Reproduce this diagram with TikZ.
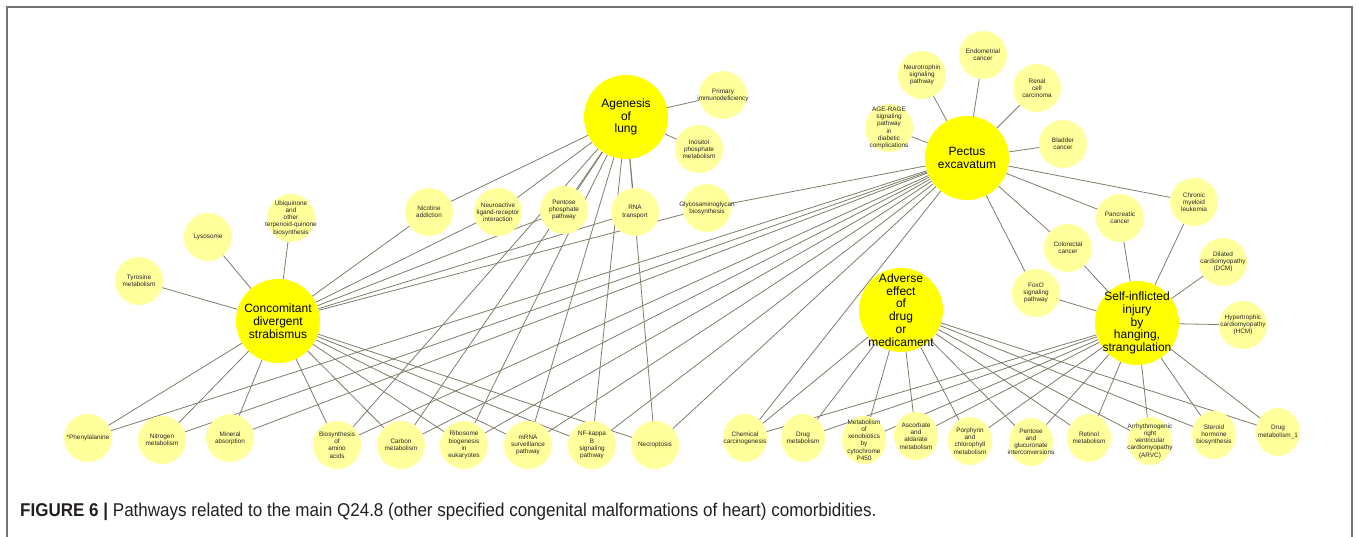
\documentclass[tikz,border=0pt]{standalone}
\usepackage{fontspec}
\setmainfont{Liberation Sans}
\newfontfamily\capfont[FakeStretch=0.92]{Liberation Sans}
\usetikzlibrary{backgrounds,shapes.geometric}
\definecolor{hubyellow}{RGB}{255,255,0}
\definecolor{pwyellow}{RGB}{255,255,155}
\definecolor{edgegray}{RGB}{125,125,105}
\definecolor{framegray}{RGB}{115,115,115}
\definecolor{captext}{RGB}{35,31,32}
\tikzset{
  hub/.style={circle, fill=hubyellow, minimum size=84pt, inner sep=0pt},
  hubtext/.style={align=center, inner sep=0pt, font=\fontsize{12}{12.8}\selectfont},
  pw/.style={circle, fill=pwyellow, minimum size=48pt, inner sep=0pt},
  pwo/.style={ellipse, fill=pwyellow, minimum width=44pt, minimum height=48pt, inner sep=0pt},
  pwtext/.style={align=center, inner sep=0pt, text=black!85, font=\fontsize{6.4}{7.2}\selectfont},
  link/.style={draw=edgegray, line width=0.8pt},
}

\begin{document}
\begin{tikzpicture}[x=1pt, y=-1pt]
			%%%%% START %%%%%
			\useasboundingbox (0,0) rectangle (1360,537);
			\draw[framegray, line width=1.4pt] (7,537) -- (7,7) -- (1352,7) -- (1352,537);
			
			% diseases
			\node[hub, label={[hubtext]center:Concomitant\\divergent\\strabismus}] (cds) at (278,321) {};
			\node[hub, label={[hubtext]center:Agenesis\\of\\lung}] (aol) at (626,117) {};
			\node[hub, label={[hubtext]center:Pectus\\excavatum}] (pex) at (967,158) {};
			\node[hub, label={[hubtext]center:Adverse\\effect\\of\\drug\\or\\medicament}] (ade) at (901,310) {};
			\node[hub, label={[hubtext]center:Self-inflicted\\injury\\by\\hanging,\\strangulation}] (sih) at (1137,323) {};
			
			% pathways round strabismus
			\node[pw, label={[pwtext]center:Tyrosine\\metabolism}] (tyr) at (139,281) {};
			\node[pw, label={[pwtext]center:Lysosome}] (lys) at (208,237) {};
			\node[pw, label={[pwtext]center:Ubiquinone\\and\\other\\terpenoid-quinone\\biosynthesis}] (ubi) at (291,218) {};
			
			% top row
			\node[pw, label={[pwtext]center:Nicotine\\addiction}] (nic) at (429,212) {};
			\node[pw, label={[pwtext]center:Neuroactive\\ligand-receptor\\interaction}] (nli) at (498,212) {};
			\node[pw, label={[pwtext]center:Pentose\\phosphate\\pathway}] (ppp) at (564,210) {};
			\node[pw, label={[pwtext]center:RNA\\transport}] (rna) at (635,212) {};
			\node[pw, label={[pwtext]center:Glycosaminoglycan\\biosynthesis}] (gly) at (707,208) {};
			\node[pw, label={[pwtext]center:Primary\\immunodeficiency}] (pid) at (723,95) {};
			\node[pw, label={[pwtext]center:Inositol\\phosphate\\metabolism}] (ino) at (699,149) {};
			
			% bottom row, left
			\node[pw, label={[pwtext]center:*Phenylalanine}] (phe) at (88,438) {};
			\node[pw, label={[pwtext]center:Nitrogen\\metabolism}] (nit) at (162,440) {};
			\node[pw, label={[pwtext]center:Mineral\\absorption}] (min) at (230,438) {};
			\node[pw, label={[pwtext]center:Biosynthesis\\of\\amino\\acids}] (bio) at (337,445) {};
			\node[pw, label={[pwtext]center:Carbon\\metabolism}] (car) at (401,445) {};
			\node[pw, label={[pwtext]center:Ribosome\\biogenesis\\in\\eukaryotes}] (rib) at (464,445) {};
			\node[pw, label={[pwtext]center:mRNA\\surveillance\\pathway}] (mrn) at (528,445) {};
			\node[pw, label={[pwtext]center:NF-kappa\\B\\signaling\\pathway}] (nfk) at (592,445) {};
			\node[pw, label={[pwtext]center:Necroptosis}] (nec) at (655,445) {};
			
			% bottom row, right
			\node[pwo, label={[pwtext]center:Chemical\\carcinogenesis}] (chc) at (745,438) {};
			\node[pwo, label={[pwtext]center:Drug\\metabolism}] (drm) at (803,438) {};
			\node[pwo, label={[pwtext]center:Metabolism\\of\\xenobiotics\\by\\cytochrome\\P450}] (xen) at (864,440) {};
			\node[pwo, label={[pwtext]center:Ascorbate\\and\\aldarate\\metabolism}] (asc) at (916,436) {};
			\node[pwo, label={[pwtext]center:Porphyrin\\and\\chlorophyll\\metabolism}] (por) at (970,441) {};
			\node[pwo, label={[pwtext]center:Pentose\\and\\glucuronate\\interconversions}] (pgi) at (1031,442) {};
			\node[pwo, label={[pwtext]center:Retinol\\metabolism}] (ret) at (1089,438) {};
			\node[pwo, label={[pwtext]center:Arrhythmogenic\\right\\ventricular\\cardiomyopathy\\(ARVC)}] (arv) at (1150,441) {};
			\node[pwo, label={[pwtext]center:Steroid\\hormone\\biosynthesis}] (ste) at (1214,435) {};
			\node[pwo, label={[pwtext]center:Drug\\metabolism\_1}] (dmo) at (1278,432) {};
			
			% pathways round pectus
			\node[pw, label={[pwtext]center:AGE-RAGE\\signaling\\pathway\\in\\diabetic\\complications}] (age) at (889,128) {};
			\node[pw, label={[pwtext]center:Neurotrophin\\signaling\\pathway}] (ntr) at (922,75) {};
			\node[pw, label={[pwtext]center:Endometrial\\cancer}] (enc) at (983,55) {};
			\node[pw, label={[pwtext]center:Renal\\cell\\carcinoma}] (rcc) at (1037,88) {};
			\node[pw, label={[pwtext]center:Bladder\\cancer}] (blc) at (1063,144) {};
			\node[pw, label={[pwtext]center:Chronic\\myeloid\\leukemia}] (cml) at (1194,202) {};
			\node[pw, label={[pwtext]center:Pancreatic\\cancer}] (pan) at (1120,218) {};
			\node[pw, label={[pwtext]center:Colorectal\\cancer}] (col) at (1068,248) {};
			\node[pw, label={[pwtext]center:FoxO\\signaling\\pathway}] (fox) at (1036,293) {};
			\node[pw, label={[pwtext]center:Dilated\\cardiomyopathy\\(DCM)}] (dcm) at (1223,262) {};
			\node[pw, label={[pwtext]center:Hypertrophic\\cardiomyopathy\\(HCM)}] (hcm) at (1243,325) {};
			
			% links
			\begin{scope}[on background layer]
				\foreach \p in {tyr,lys,ubi,nic,nli,ppp,rna,gly,phe,nit,min,bio,car,rib,mrn,nfk,nec}
					\draw[link] (cds) -- (\p);
				\foreach \p in {pid,ino,nic,nli,ppp,rna,bio,car,rib,mrn,nfk,nec}
					\draw[link] (aol) -- (\p);
				\foreach \p in {age,ntr,enc,rcc,blc,cml,pan,col,fox,gly,phe,nit,min,bio,car,rib,mrn,nfk,nec,chc}
					\draw[link] (pex) -- (\p);
				\foreach \p in {chc,drm,xen,asc,por,pgi,ret,arv,ste,dmo}
					\draw[link] (ade) -- (\p);
				\foreach \p in {cml,pan,col,fox,dcm,hcm,chc,drm,xen,asc,por,pgi,ret,arv,ste,dmo}
					\draw[link] (sih) -- (\p);
			\end{scope}
			
			\node[anchor=base west, inner sep=0pt, text=captext] (cap) at (20,516)
				{\capfont\fontsize{18.5}{22}\selectfont\textbf{FIGURE 6 |} Pathways related to the main Q24.8 (other specified congenital malformations of heart) comorbidities.};
			%%%%% END %%%%%
\end{tikzpicture}
\end{document}
